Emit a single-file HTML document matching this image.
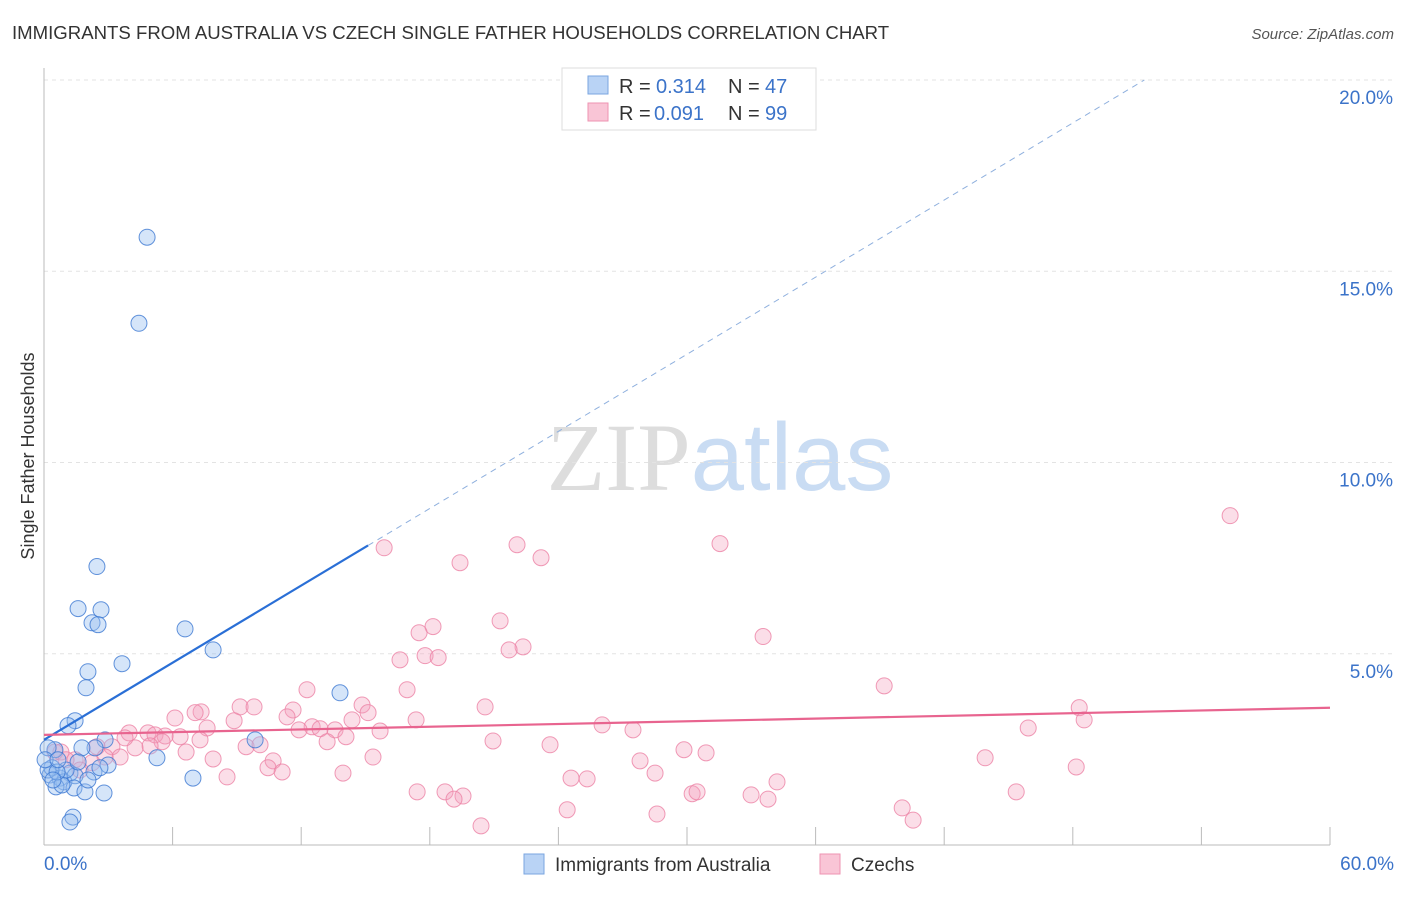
<!DOCTYPE html>
<html><head><meta charset="utf-8"><style>
body{margin:0;background:#fff;font-family:"Liberation Sans",sans-serif}
svg text{font-family:"Liberation Sans",sans-serif}
</style></head><body>
<svg id="chart" width="1406" height="892" viewBox="0 0 1406 892" xmlns="http://www.w3.org/2000/svg">
<text x="12" y="39" font-size="18.6" fill="#333">IMMIGRANTS FROM AUSTRALIA VS CZECH SINGLE FATHER HOUSEHOLDS CORRELATION CHART</text>
<text x="1394" y="39" font-size="15" fill="#555" text-anchor="end" font-style="italic">Source: ZipAtlas.com</text>
<text x="720" y="490" font-size="96" text-anchor="middle"><tspan fill="#ddd" font-family="Liberation Serif">ZIP</tspan><tspan fill="#c9dcf3">atlas</tspan></text>
<text transform="translate(34,456) rotate(-90)" font-size="18" fill="#333" text-anchor="middle">Single Father Households</text>
<g id="grid"></g><g id="axes"></g><g id="marks"></g>
<g>
<rect x="562" y="68" width="254" height="62" fill="#fff" stroke="#ddd"/>
<rect x="588" y="76" width="20" height="18" fill="#b9d3f5" stroke="#7aa6e0"/>
<rect x="588" y="103" width="20" height="18" fill="#f9c5d6" stroke="#ee93b2"/>
<text x="619" y="93" font-size="20" fill="#333">R =</text>
<text x="656" y="93" font-size="20" fill="#3b73c9">0.314</text>
<text x="728" y="93" font-size="20" fill="#333">N =</text>
<text x="765" y="93" font-size="20" fill="#3b73c9">47</text>
<text x="619" y="120" font-size="20" fill="#333">R =</text>
<text x="654" y="120" font-size="20" fill="#3b73c9">0.091</text>
<text x="728" y="120" font-size="20" fill="#333">N =</text>
<text x="765" y="120" font-size="20" fill="#3b73c9">99</text>
</g>
<g>
<rect x="524" y="854" width="20" height="20" fill="#b9d3f5" stroke="#7aa6e0"/>
<text x="555" y="871" font-size="19" fill="#333">Immigrants from Australia</text>
<rect x="820" y="854" width="20" height="20" fill="#f9c5d6" stroke="#ee93b2"/>
<text x="851" y="871" font-size="19" fill="#333">Czechs</text>
</g>
</svg>
<script>
const blueX=[4.81,4.43,2.47,1.59,2.66,2.24,2.52,6.58,7.89,3.64,2.05,1.96,13.81,1.45,1.12,9.85,2.85,2.38,1.77,0.51,0.19,5.27,2.99,2.33,1.21,0.28,0.75,0.93,1.45,0.37,0.56,1.40,1.91,2.80,6.95,0.84,0.19,1.03,0.61,1.35,1.21,0.05,1.59,2.61,2.05,0.65,0.42];
const blueY=[15.89,13.64,7.28,6.18,6.15,5.81,5.76,5.65,5.10,4.74,4.53,4.11,3.98,3.25,3.12,2.75,2.75,2.54,2.54,2.49,2.54,2.28,2.09,1.91,1.88,1.83,1.75,1.65,1.81,2.02,1.52,1.49,1.39,1.36,1.75,1.57,1.96,1.96,1.91,0.73,0.60,2.23,2.17,2.02,1.70,2.23,1.70];
const pinkX=[55.34,15.87,22.07,31.54,23.19,19.41,21.28,18.15,17.50,33.55,22.35,21.70,17.78,18.39,16.61,39.20,12.27,16.94,14.84,20.58,48.30,9.15,9.80,7.33,7.05,11.62,15.12,11.34,6.11,14.37,17.36,8.87,48.53,26.04,12.51,7.61,12.88,13.58,11.90,15.68,27.48,45.92,6.35,14.09,3.97,4.85,5.18,5.65,5.51,13.21,20.95,23.61,9.43,10.08,3.17,4.25,2.47,0.51,29.86,30.89,6.63,15.35,7.89,10.69,43.91,27.81,3.55,2.85,1.45,0.79,1.03,10.45,11.11,48.16,13.95,28.51,8.54,24.59,25.34,34.20,17.41,18.71,19.55,19.13,30.24,30.47,32.99,33.78,45.36,40.04,24.41,28.60,40.55,20.39,2.24,4.95,1.68,3.78,7.28];
const pinkY=[8.61,7.77,7.85,7.88,7.51,7.38,5.86,5.71,5.55,5.45,5.18,5.10,4.95,4.90,4.84,4.16,4.06,4.06,3.66,3.61,3.59,3.61,3.61,3.48,3.46,3.53,3.46,3.35,3.32,3.27,3.27,3.25,3.27,3.14,3.09,3.06,3.04,3.01,3.01,2.98,3.01,3.06,2.83,2.83,2.93,2.93,2.88,2.85,2.70,2.70,2.72,2.62,2.57,2.62,2.57,2.54,2.57,2.43,2.49,2.41,2.43,2.30,2.25,2.20,2.28,2.20,2.30,2.30,2.23,2.43,2.23,2.02,1.91,2.04,1.88,1.88,1.78,1.75,1.73,1.65,1.39,1.39,1.28,1.20,1.34,1.39,1.31,1.20,1.39,0.97,0.92,0.81,0.65,0.50,2.15,2.59,1.96,2.80,2.75];
const yTicks=[5,10,15,20];
const yTickLabels=["5.0%","10.0%","15.0%","20.0%"];
const xTicks=[0,6,12,18,24,30,36,42,48,54,60];
const blueTrend=[2.75,0.336];
const pinkTrend=[2.88,0.0118];
const NS='http://www.w3.org/2000/svg';
const X=v=>44+v*(1286/60), Y=v=>845-v*38.25;
function mk(t,a,p){const e=document.createElementNS(NS,t);for(const k in a)e.setAttribute(k,a[k]);p.appendChild(e);return e;}
const grid=document.getElementById('grid'),axes=document.getElementById('axes'),marks=document.getElementById('marks');
yTicks.forEach((t,i)=>{
 const l=mk('line',{x1:44,x2:1394,y1:Y(t),y2:Y(t),stroke:'#e3e3e3','stroke-dasharray':'4,4'},grid);
 
 
 const tx=mk('text',{x:1393,y:Y(t)+24,'font-size':19,fill:'#3b73c9','text-anchor':'end'},axes);
 tx.textContent=yTickLabels[i];
 
 
});
const ax=mk('line',{x1:44,x2:1330,y1:845,y2:845,stroke:'#bbb'},axes);


const ay=mk('line',{x1:44,x2:44,y1:68,y2:845,stroke:'#bbb'},axes);


xTicks.forEach(t=>{const l=mk('line',{x1:X(t),x2:X(t),y1:827,y2:845,stroke:'#bbb'},axes);
 
 });
[[0,'0.0%','start',44],[60,'60.0%','end',1394]].forEach(d=>{const t=mk('text',{x:d[3],y:870,'font-size':19,fill:'#3b73c9','text-anchor':d[2]},axes);t.textContent=d[1];
 
 });
pinkX.forEach((x,i)=>{const c=mk('circle',{cx:X(x),cy:Y(pinkY[i]),r:8,fill:'rgba(244,160,190,0.35)',stroke:'rgba(236,130,165,0.8)','stroke-width':1},marks);
 
 });
blueX.forEach((x,i)=>{const c=mk('circle',{cx:X(x),cy:Y(blueY[i]),r:8,fill:'rgba(150,190,240,0.4)',stroke:'rgba(60,120,210,0.8)','stroke-width':1},marks);
 
 });
const bEnd=15.12, bDash=(20-blueTrend[0])/blueTrend[1];
const b1=mk('line',{x1:X(0),y1:Y(blueTrend[0]),x2:X(bEnd),y2:Y(blueTrend[0]+blueTrend[1]*bEnd),stroke:'#2a6fd6','stroke-width':2.2},marks);


const b2=mk('line',{x1:X(bEnd),y1:Y(blueTrend[0]+blueTrend[1]*bEnd),x2:X(bDash),y2:Y(20),stroke:'#8fb0de','stroke-width':1,'stroke-dasharray':'6,5'},marks);


const p1=mk('line',{x1:X(0),y1:Y(pinkTrend[0]),x2:X(60),y2:Y(pinkTrend[0]+pinkTrend[1]*60),stroke:'#e8648f','stroke-width':2.2},marks);


</script>
</body></html>
